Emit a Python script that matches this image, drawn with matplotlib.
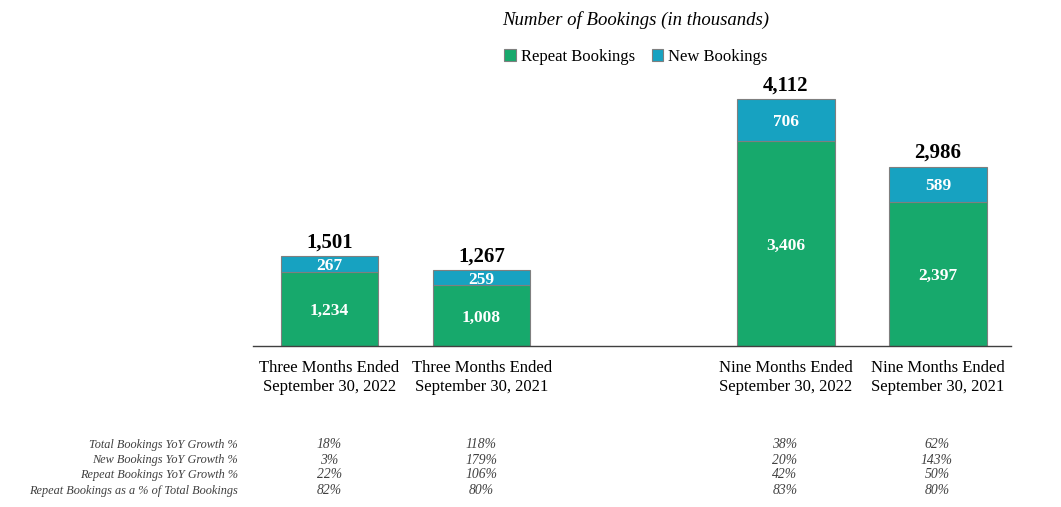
import matplotlib
matplotlib.use("Agg")
import matplotlib.pyplot as plt
import numpy as np

plt.rcParams['font.family'] = ['Liberation Serif', 'DejaVu Serif']

categories = ["Three Months Ended\nSeptember 30, 2022", "Three Months Ended\nSeptember 30, 2021",
              "Nine Months Ended\nSeptember 30, 2022", "Nine Months Ended\nSeptember 30, 2021"]
repeat_bookings = [1234, 1008, 3406, 2397]
new_bookings = [267, 259, 706, 589]
totals = [1501, 1267, 4112, 2986]
row_labels = ["Total Bookings YoY Growth %", "New Bookings YoY Growth %",
              "Repeat Bookings YoY Growth %", "Repeat Bookings as a % of Total Bookings"]
row_values = [
    ["18%", "118%", "38%", "62%"],
    ["3%", "179%", "20%", "143%"],
    ["22%", "106%", "42%", "50%"],
    ["82%", "80%", "83%", "80%"],
]

GREEN = "#17a96c"
BLUE = "#17a2c1"
W, H = 1061, 507

fig = plt.figure(figsize=(W / 100, H / 100), dpi=100)
ax = fig.add_axes([253 / W, 1 - 346 / H, (1011 - 253) / W, 286 / H])

x = np.array([0, 1, 3, 4])
bw = 0.64
ax.bar(x, repeat_bookings, bw, color=GREEN, edgecolor="#7f7f7f", linewidth=0.8, label="Repeat Bookings", zorder=2)
ax.bar(x, new_bookings, bw, bottom=repeat_bookings, color=BLUE, edgecolor="#7f7f7f", linewidth=0.8,
       label="New Bookings", zorder=2)

for xi, r, n, t in zip(x, repeat_bookings, new_bookings, totals):
    ax.text(xi, r / 2, f"{r:,}", ha="center", va="center_baseline", color="white", fontweight="bold", fontsize=12.5)
    ax.text(xi, r + n / 2, f"{n:,}", ha="center", va="center_baseline", color="white", fontweight="bold", fontsize=12.5)
    ax.text(xi, t + 60, f"{t:,}", ha="center", va="bottom", color="black", fontweight="bold", fontsize=15)

ax.set_xlim(-0.503, 4.48)
ax.set_ylim(0, 4761)
ax.set_xticks(x)
ax.set_xticklabels(categories, fontsize=12, linespacing=1.25)
ax.tick_params(axis="x", length=0, pad=10)
ax.set_yticks([])
for s in ["top", "right", "left"]:
    ax.spines[s].set_visible(False)
ax.spines["bottom"].set_color("#404040")
ax.spines["bottom"].set_linewidth(1.0)

fig.text(636 / W, 1 - 20 / H, "Number of Bookings (in thousands)", ha="center", va="center",
         fontsize=13.5, style="italic")
fig.legend(loc="center", bbox_to_anchor=(636 / W, 1 - 57 / H), ncol=2, frameon=False, fontsize=12,
           handlelength=0.7, handleheight=0.7, handletextpad=0.3, columnspacing=1.0)

row_y = [445, 460, 475, 491]
col_px = [329.5, 481.5, 785, 937]
for yy, lab, vals in zip(row_y, row_labels, row_values):
    fig.text(238 / W, 1 - yy / H, lab, ha="right", va="center", fontsize=8.8, style="italic", color="#404040")
    for cx, v in zip(col_px, vals):
        fig.text(cx / W, 1 - yy / H, v, ha="center", va="center", fontsize=9.8, style="italic", color="#404040")

fig.savefig("out.png", dpi=100)
